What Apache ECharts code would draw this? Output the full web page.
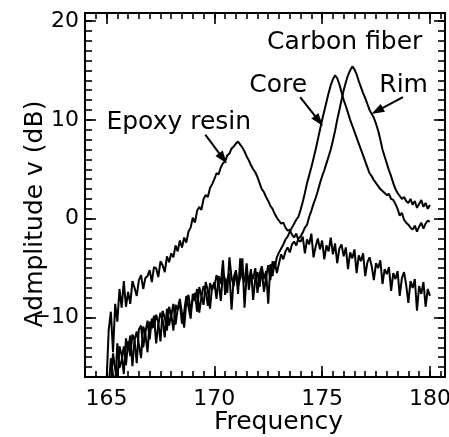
<!DOCTYPE html>
<html>
<head>
<meta charset="utf-8">
<script src="https://cdn.jsdelivr.net/npm/echarts@6/dist/echarts.min.js"></script>
<style>
  html, body { margin: 0; padding: 0; background: #fff; }
  #chart { width: 449px; height: 437px; }
</style>
</head>
<body>
<div id="chart"></div>
<script>
// Sweep frequencies (0.1 steps from 165 to 180)
const freq = [
  165.0,165.1,165.2,165.3,165.4,165.5,165.6,165.7,165.8,165.9,
  166.0,166.1,166.2,166.3,166.4,166.5,166.6,166.7,166.8,166.9,
  167.0,167.1,167.2,167.3,167.4,167.5,167.6,167.7,167.8,167.9,
  168.0,168.1,168.2,168.3,168.4,168.5,168.6,168.7,168.8,168.9,
  169.0,169.1,169.2,169.3,169.4,169.5,169.6,169.7,169.8,169.9,
  170.0,170.1,170.2,170.3,170.4,170.5,170.6,170.7,170.8,170.9,
  171.0,171.1,171.2,171.3,171.4,171.5,171.6,171.7,171.8,171.9,
  172.0,172.1,172.2,172.3,172.4,172.5,172.6,172.7,172.8,172.9,
  173.0,173.1,173.2,173.3,173.4,173.5,173.6,173.7,173.8,173.9,
  174.0,174.1,174.2,174.3,174.4,174.5,174.6,174.7,174.8,174.9,
  175.0,175.1,175.2,175.3,175.4,175.5,175.6,175.7,175.8,175.9,
  176.0,176.1,176.2,176.3,176.4,176.5,176.6,176.7,176.8,176.9,
  177.0,177.1,177.2,177.3,177.4,177.5,177.6,177.7,177.8,177.9,
  178.0,178.1,178.2,178.3,178.4,178.5,178.6,178.7,178.8,178.9,
  179.0,179.1,179.2,179.3,179.4,179.5,179.6,179.7,179.8,179.9,
  180.0
];

// Epoxy resin response (dB)
const epoxy = [
  -16.5,-11.2,-9.4,-13.5,-8.6,-10.4,-7.1,-9.0,-6.3,-8.9,
  -7.4,-8.6,-6.3,-7.0,-7.8,-6.2,-5.7,-7.1,-6.0,-5.8,
  -5.2,-6.4,-4.9,-5.0,-5.9,-4.3,-4.7,-5.4,-3.8,-4.4,
  -3.5,-3.9,-2.7,-3.3,-2.2,-2.9,-1.9,-2.4,-1.3,-0.9,
  0.1,-0.4,0.8,1.2,0.9,2.0,2.4,2.2,3.1,3.5,
  4.0,4.6,4.5,5.2,5.6,5.8,6.4,6.6,7.1,7.3,
  7.6,7.8,7.5,7.2,6.8,6.3,5.9,5.4,5.0,4.7,
  4.2,3.6,3.0,2.7,2.2,1.8,1.3,1.0,0.5,0.1,
  -0.2,-0.5,-0.4,-0.9,-1.2,-1.1,-1.6,-1.9,-1.5,-2.2,
  -2.3,-1.8,-3.5,-2.1,-2.6,-1.5,-3.9,-2.8,-2.0,-3.1,
  -2.2,-4.1,-2.7,-3.3,-1.9,-3.6,-2.5,-4.5,-3.0,-2.6,
  -3.8,-2.9,-5.1,-3.4,-4.0,-3.1,-5.5,-3.7,-4.3,-3.5,
  -5.8,-4.4,-3.9,-4.8,-6.2,-4.5,-5.0,-4.2,-6.6,-5.1,
  -5.6,-4.9,-7.3,-5.5,-6.1,-5.3,-7.8,-6.0,-5.4,-6.7,
  -8.5,-6.3,-7.0,-6.1,-9.3,-6.8,-7.6,-6.4,-8.9,-7.1,
  -7.8
];

// Carbon fiber, core (dB)
const core = [
  -17.0,-15.9,-16.8,-13.6,-15.2,-16.4,-12.9,-13.8,-15.7,-12.1,
  -13.3,-11.8,-14.9,-12.2,-11.4,-12.7,-14.1,-10.9,-11.6,-13.5,
  -10.4,-11.1,-9.8,-12.6,-10.7,-9.5,-10.2,-12.0,-9.1,-10.8,
  -9.6,-11.3,-8.7,-9.2,-8.5,-10.6,-9.4,-7.8,-8.9,-10.1,
  -7.6,-8.3,-7.1,-9.5,-7.9,-6.8,-7.4,-8.8,-6.5,-7.2,
  -6.4,-8.1,-5.8,-6.6,-4.2,-7.7,-6.1,-5.5,-9.2,-5.9,
  -5.3,-6.8,-6.0,-4.0,-9.0,-5.6,-6.3,-5.1,-8.2,-6.0,
  -5.4,-6.9,-5.1,-7.4,-5.9,-4.7,-6.2,-4.3,-5.0,-3.9,
  -3.4,-3.0,-2.6,-2.1,-1.8,-1.3,-0.9,-0.5,-0.1,0.2,
  0.9,1.7,2.6,3.6,4.4,5.2,6.1,7.0,8.0,9.0,
  10.0,10.9,11.8,12.7,13.5,14.1,14.5,14.2,13.6,12.8,
  12.0,11.4,10.7,10.0,9.4,8.8,8.2,7.6,7.0,6.4,
  5.8,5.2,4.6,4.3,3.9,3.6,3.3,3.0,2.8,2.6,
  2.4,2.5,2.0,1.9,1.5,1.0,0.3,0.6,-0.1,-0.4,
  -0.6,-0.9,-1.1,-0.7,-1.3,-0.8,-0.4,-1.0,-0.5,-0.2,
  -0.3
];

// Carbon fiber, rim (dB)
const rim = [
  -16.2,-17.0,-14.1,-15.8,-16.9,-12.6,-15.1,-14.3,-12.9,-14.8,
  -12.4,-13.9,-11.7,-12.3,-14.6,-11.2,-10.8,-13.0,-11.5,-10.3,
  -12.2,-10.1,-11.0,-9.7,-10.5,-12.4,-9.3,-10.0,-11.3,-8.9,
  -9.8,-8.6,-10.7,-9.1,-8.1,-9.6,-11.0,-8.4,-7.7,-9.3,
  -8.2,-7.5,-9.4,-6.9,-7.8,-8.7,-6.4,-7.3,-9.1,-6.7,
  -7.0,-5.7,-6.5,-8.3,-5.4,-6.2,-7.5,-3.9,-6.0,-6.8,
  -5.2,-7.6,-4.0,-5.9,-6.4,-4.5,-7.2,-5.5,-6.1,-5.0,
  -7.5,-5.6,-4.8,-6.1,-5.3,-8.6,-4.6,-5.8,-4.3,-5.5,
  -4.5,-3.6,-4.1,-3.3,-2.9,-3.4,-2.6,-2.3,-2.7,-2.0,
  -1.8,-1.4,-0.9,-0.6,0.2,0.8,1.5,2.1,2.8,3.6,
  4.3,4.9,5.6,6.3,7.0,7.9,8.9,10.0,11.0,12.0,
  13.0,13.8,14.5,15.0,15.4,15.1,14.6,13.9,13.3,12.7,
  12.2,11.6,11.0,10.6,10.2,9.6,8.9,8.0,7.0,6.3,
  5.6,4.9,4.3,3.6,3.0,2.6,2.3,2.0,2.2,1.8,
  1.6,2.0,1.4,1.8,1.1,1.5,1.9,1.2,1.6,1.0,
  1.4
];

const xTickLabels = [165, 170, 175, 180];
const yTickLabels = [-10, 0, 10, 20];

// Text annotations, anchored in data coordinates [frequency, dB]
const notes = [
  { text: 'Carbon fiber', at: [176.05, 17.8] },
  { text: 'Core',         at: [172.96, 13.5] },
  { text: 'Rim',          at: [178.78, 13.5] },
  { text: 'Epoxy resin',  at: [168.35, 9.75] }
];
// Arrows: [from, to] in data coordinates
const arrows = [
  [[169.58, 8.5], [170.40, 6.1]],
  [[173.98, 12.3], [174.85, 9.9]],
  [[178.75, 12.3], [177.55, 10.9]]
];

const X_MIN = 164, X_MAX = 180.7, Y_MIN = -16, Y_MAX = 20.8;
const FONT = 'DejaVu Sans';

function steps(lo, hi, step) {
  const out = [];
  for (let v = lo; v <= hi + 1e-9; v += step) out.push(Math.round(v * 10) / 10);
  return out;
}
const xMinor = steps(164.5, 180.5, 0.5);
const yMinor = steps(-15, 20, 1);

function xAxisDef(pos, ticks, len, withLabels) {
  return {
    type: 'value', position: pos, min: X_MIN, max: X_MAX,
    axisLine: { show: true, onZero: false, lineStyle: { color: '#000', width: 2 } },
    axisTick: { show: true, inside: true, length: len, customValues: ticks,
                lineStyle: { color: '#000', width: 1.6 } },
    axisLabel: withLabels ? {
      show: true, customValues: xTickLabels, margin: 11,
      color: '#000', fontSize: 22, fontFamily: FONT
    } : { show: false },
    splitLine: { show: false },
    name: withLabels ? 'Frequency' : '',
    nameLocation: 'middle', nameGap: 33, nameMoveOverlap: false,
    nameTextStyle: { color: '#000', fontSize: 25, fontFamily: FONT, padding: [0, 0, 0, 27] }
  };
}
function yAxisDef(pos, ticks, len, withLabels) {
  return {
    type: 'value', position: pos, min: Y_MIN, max: Y_MAX,
    axisLine: { show: true, onZero: false, lineStyle: { color: '#000', width: 2 } },
    axisTick: { show: true, inside: true, length: len, customValues: ticks,
                lineStyle: { color: '#000', width: 1.6 } },
    axisLabel: withLabels ? {
      show: true, customValues: yTickLabels, margin: 6,
      color: '#000', fontSize: 22, fontFamily: FONT,
      formatter: v => String(v).replace('-', '\u2212')
    } : { show: false },
    splitLine: { show: false },
    name: withLabels ? 'Admplitude v (dB)' : '',
    nameLocation: 'middle', nameGap: 37, nameRotate: 90, nameMoveOverlap: false,
    nameTextStyle: { color: '#000', fontSize: 25, fontFamily: FONT, padding: [0, 38, 0, 0] }
  };
}

function lineSeries(name, values) {
  return {
    name, type: 'line', xAxisIndex: 0, yAxisIndex: 0,
    data: freq.map((f, i) => [f, values[i]]),
    showSymbol: false, symbol: 'none', clip: true,
    lineStyle: { color: '#000', width: 2 },
    emphasis: { disabled: true }, silent: true
  };
}

const chart = echarts.init(document.getElementById('chart'), null, { renderer: 'canvas' });
const arrowSeries = lineSeries('Core', core);
arrowSeries.markLine = {
  silent: true, animation: false,
  symbol: ['none', 'triangle'], symbolSize: [9, 13],
  label: { show: false },
  lineStyle: { color: '#000', width: 2, type: 'solid' },
  emphasis: { disabled: true },
  data: arrows.map(a => [{ coord: a[0] }, { coord: a[1] }])
};

chart.setOption({
  animation: false,
  backgroundColor: '#fff',
  grid: { left: 85, right: 4, top: 13, bottom: 60, containLabel: false, outerBoundsMode: 'none' },
  xAxis: [
    xAxisDef('bottom', xTickLabels, 11, true),
    xAxisDef('bottom', xMinor, 6, false),
    xAxisDef('top', xTickLabels, 11, false),
    xAxisDef('top', xMinor, 6, false)
  ],
  yAxis: [
    yAxisDef('left', yTickLabels, 11, true),
    yAxisDef('left', yMinor, 7, false),
    yAxisDef('right', yTickLabels, 11, false),
    yAxisDef('right', yMinor, 7, false)
  ],
  series: [
    lineSeries('Epoxy resin', epoxy),
    arrowSeries,
    lineSeries('Rim', rim)
  ]
});

// Place annotation texts via the chart's own coordinate conversion
const graphics = notes.map(n => {
  const p = chart.convertToPixel({ xAxisIndex: 0, yAxisIndex: 0 }, n.at);
  return {
    type: 'text', x: p[0], y: p[1], silent: true,
    style: { text: n.text, fill: '#000', font: '25px "' + FONT + '"',
             align: 'center', verticalAlign: 'middle' }
  };
});
chart.setOption({ graphic: graphics });
</script>
</body>
</html>
